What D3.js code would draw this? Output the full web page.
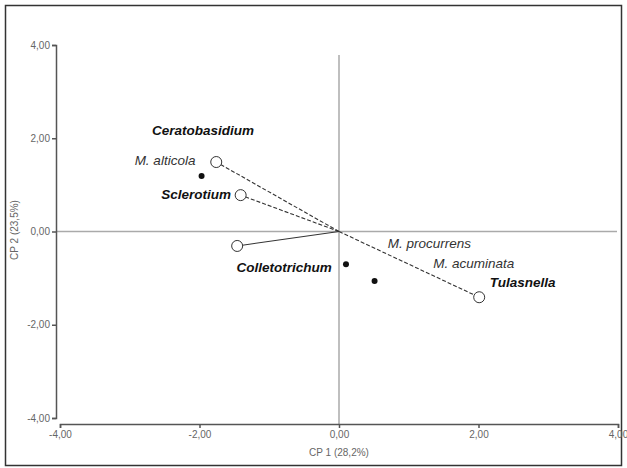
<!DOCTYPE html>
<html>
<head>
<meta charset="utf-8">
<script src="https://cdn.jsdelivr.net/npm/d3@7"></script>
<style>
  body { margin: 0; background: #fff; }
  text { font-family: "Liberation Sans", Arial, sans-serif; }
</style>
</head>
<body>
<svg id="chart" width="627" height="468"></svg>
<script>
// PCA biplot, CP1 x CP2

const tickVals = [-4, -2, 0, 2, 4];
const xTitle = "CP 1 (28,2%)";
const yTitle = "CP 2 (23,5%)";

// vectors from origin (open circles)
const vecNames = ["M. alticola", "Sclerotium", "", "Tulasnella"];
const vecX = [-1.76, -1.41, -1.46, 2.01];
const vecY = [1.49, 0.78, -0.31, -1.41];
const vecDash = ["4,2", "4,2", null, "4,2"];

// filled dots
const dotX = [-1.97, 0.10, 0.51];
const dotY = [1.19, -0.70, -1.06];

// labels (text, x, y, bold)
const labTxt = ["Ceratobasidium", "M. alticola", "Sclerotium", "Colletotrichum",
                "M. procurrens", "M. acuminata", "Tulasnella"];
const labX = [-2.68, -2.93, -2.55, -1.47, 0.70, 1.35, 2.16];
const labY = [2.18, 1.53, 0.80, -0.76, -0.25, -0.68, -1.08];
const labBold = [true, false, true, true, false, false, true];

const svg = d3.select("#chart");

// outer frame
svg.append("rect").attr("x", 5.5).attr("y", 5.5).attr("width", 616).attr("height", 460)
   .attr("fill", "none").attr("stroke", "#333").attr("stroke-width", 1.5);

const x = d3.scaleLinear().domain([-4, 4]).range([60, 618]);
const y = d3.scaleLinear().domain([-4, 4]).range([418, 45]);
const fmt = d => d3.format(".2f")(d).replace(".", ",").replace("−", "-");

const g = svg.append("g");

// zero lines
g.append("line").attr("x1", 56).attr("x2", x(4) - 1).attr("y1", y(0)).attr("y2", y(0))
  .attr("stroke", "#aaa").attr("stroke-width", 1.5);
g.append("line").attr("x1", x(0)).attr("x2", x(0)).attr("y1", 55).attr("y2", 424)
  .attr("stroke", "#aaa").attr("stroke-width", 1.5);

// axes
const yAx = g.append("g").attr("transform", "translate(56,0)")
  .call(d3.axisLeft(y).tickValues(tickVals).tickSize(4).tickPadding(2).tickFormat(fmt));
const xAx = g.append("g").attr("transform", "translate(0,424)")
  .call(d3.axisBottom(x).tickValues(tickVals).tickSize(4).tickPadding(3).tickFormat(fmt));
[yAx, xAx].forEach(a => {
  a.selectAll("path, line").attr("stroke", "#555").attr("stroke-width", 1.5);
  a.selectAll("text").attr("fill", "#666").style("font-size", "10px");
});

// axis titles
g.append("text").attr("x", x(0)).attr("y", 456).attr("text-anchor", "middle")
  .attr("fill", "#666").style("font-size", "10px").text(xTitle);
g.append("text").attr("transform", "translate(18,230) rotate(-90)").attr("text-anchor", "middle")
  .attr("fill", "#666").style("font-size", "10px").text(yTitle);

// vectors
vecX.forEach((vx, i) => {
  const ln = g.append("line").attr("x1", x(0)).attr("y1", y(0))
    .attr("x2", x(vx)).attr("y2", y(vecY[i]))
    .attr("stroke", "#333").attr("stroke-width", 1.1);
  if (vecDash[i]) ln.attr("stroke-dasharray", vecDash[i]);
});
vecX.forEach((vx, i) => {
  g.append("circle").attr("cx", x(vx)).attr("cy", y(vecY[i])).attr("r", 5.5)
    .attr("fill", "#fff").attr("stroke", "#333").attr("stroke-width", 1);
});

// dots
dotX.forEach((dx, i) => {
  g.append("circle").attr("cx", x(dx)).attr("cy", y(dotY[i])).attr("r", 3)
    .attr("fill", "#111");
});

// labels
labTxt.forEach((t, i) => {
  g.append("text").attr("x", x(labX[i])).attr("y", y(labY[i])).attr("dy", "0.35em")
    .attr("fill", labBold[i] ? "#111" : "#333")
    .style("font-size", "13.5px")
    .style("font-style", "italic")
    .style("font-weight", labBold[i] ? "bold" : "normal")
    .text(t);
});
</script>
</body>
</html>
